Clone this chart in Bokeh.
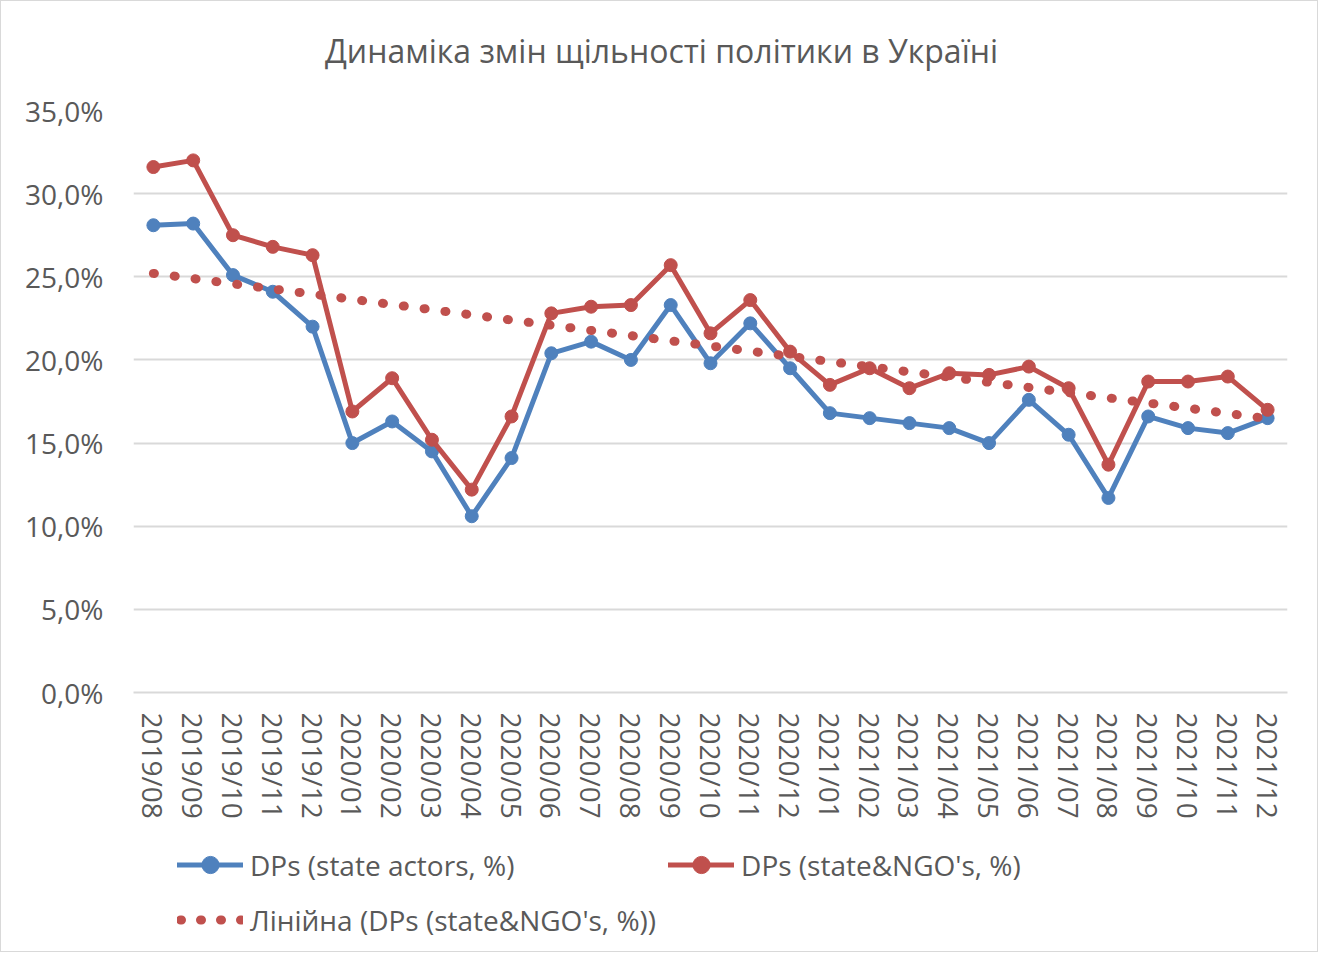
import numpy as np
from bokeh.plotting import figure
from bokeh.layouts import column
from bokeh.models import FactorRange, Range1d, FixedTicker, Legend, LegendItem, Label
from bokeh.embed import file_html
from bokeh.resources import INLINE

months = ["2019/08", "2019/09", "2019/10", "2019/11", "2019/12",
          "2020/01", "2020/02", "2020/03", "2020/04", "2020/05", "2020/06",
          "2020/07", "2020/08", "2020/09", "2020/10", "2020/11", "2020/12",
          "2021/01", "2021/02", "2021/03", "2021/04", "2021/05", "2021/06",
          "2021/07", "2021/08", "2021/09", "2021/10", "2021/11", "2021/12"]

state_actors = [28.1, 28.2, 25.1, 24.1, 22.0,
                15.0, 16.3, 14.5, 10.6, 14.1, 20.4,
                21.1, 20.0, 23.3, 19.8, 22.2, 19.5,
                16.8, 16.5, 16.2, 15.9, 15.0, 17.6,
                15.5, 11.7, 16.6, 15.9, 15.6, 16.5]

state_ngo = [31.6, 32.0, 27.5, 26.8, 26.3,
             16.9, 18.9, 15.2, 12.2, 16.6, 22.8,
             23.2, 23.3, 25.7, 21.6, 23.6, 20.5,
             18.5, 19.5, 18.3, 19.2, 19.1, 19.6,
             18.3, 13.7, 18.7, 18.7, 19.0, 17.0]

y_ticks = [0, 5, 10, 15, 20, 25, 30, 35]
y_tick_labels = ["0,0%", "5,0%", "10,0%", "15,0%", "20,0%", "25,0%", "30,0%", "35,0%"]

title_text = "Динаміка змін щільності політики в Україні"
label_blue = "DPs (state actors, %)"
label_red = "DPs (state&NGO's, %)"
label_trend = "Лінійна (DPs (state&NGO's, %))"

# Excel-style linear trendline of the red series
idx = np.arange(len(months))
coef = np.polyfit(idx, state_ngo, 1)
trend = list(np.polyval(coef, idx))

BLUE = "#4F81BD"
RED = "#C0504D"
TXT = "#595959"
GRID = "#D9D9D9"
FONT = "Open Sans"

# ---- title strip ----
tf = figure(width=1316, height=80, x_range=Range1d(0, 1), y_range=Range1d(0, 1),
            output_backend="svg", toolbar_location=None,
            x_axis_location=None, y_axis_location=None,
            min_border_left=0, min_border_right=0, min_border_top=0, min_border_bottom=0)
tf.outline_line_color = None
tf.grid.visible = False
tf.add_layout(Label(x=0.5, y=0.5, text=title_text, text_align="center",
                    text_baseline="middle", x_offset=-49, y_offset=-9,
                    text_font=FONT, text_font_size="32px", text_color=TXT))

# ---- main chart ----
p = figure(width=1316, height=755,
           x_range=FactorRange(*months), y_range=Range1d(0, 35),
           output_backend="svg", toolbar_location=None,
           min_border_left=132, min_border_right=30,
           min_border_top=29, min_border_bottom=144)
p.outline_line_color = None

p.xgrid.grid_line_color = None
p.ygrid.grid_line_color = GRID
p.ygrid.grid_line_width = 2
p.yaxis.ticker = FixedTicker(ticks=y_ticks)
p.yaxis.major_label_overrides = {t: l for t, l in zip(y_ticks, y_tick_labels)}
p.yaxis.axis_line_color = None
p.yaxis.major_tick_line_color = None
p.yaxis.minor_tick_line_color = None
p.yaxis.major_label_standoff = 24
p.yaxis.major_label_text_font = FONT
p.yaxis.major_label_text_font_size = "28px"
p.yaxis.major_label_text_color = TXT

p.xaxis.axis_line_color = GRID
p.xaxis.axis_line_width = 2
p.xaxis.major_tick_line_color = None
p.xaxis.minor_tick_line_color = None
p.xaxis.major_label_orientation = "vertical"
p.xaxis.major_label_standoff = 14
p.xaxis.major_label_text_font = FONT
p.xaxis.major_label_text_font_size = "28px"
p.xaxis.major_label_text_color = TXT

p.line(months, state_actors, line_color=BLUE, line_width=5, line_join="round")
p.scatter(months, state_actors, size=13, fill_color=BLUE, line_color=BLUE)
p.line(months, state_ngo, line_color=RED, line_width=5, line_join="round")
p.scatter(months, state_ngo, size=13, fill_color=RED, line_color=RED)
p.line(months, trend, line_color=RED, line_width=9, line_dash="1 20", line_cap="round")

# ---- legend strip: same series drawn out of view so the legend has glyphs ----
pl = figure(width=1316, height=115, x_range=Range1d(0, 1), y_range=Range1d(0, 1),
            output_backend="svg", toolbar_location=None,
            x_axis_location=None, y_axis_location=None,
            min_border_left=0, min_border_right=0, min_border_top=0, min_border_bottom=0)
pl.outline_line_color = None
pl.grid.visible = False
lb1 = pl.line(idx, state_actors, line_color=BLUE, line_width=5, line_cap="round")
lb2 = pl.scatter(idx, state_actors, size=13, fill_color=BLUE, line_color=BLUE)
lr1 = pl.line(idx, state_ngo, line_color=RED, line_width=5, line_cap="round")
lr2 = pl.scatter(idx, state_ngo, size=13, fill_color=RED, line_color=RED)
lt = pl.line(idx, trend, line_color=RED, line_width=9, line_dash="1 19",
             line_dash_offset=17, line_cap="round")

legend = Legend(items=[LegendItem(label=label_blue, renderers=[lb1, lb2]),
                       LegendItem(label=label_trend, renderers=[lt]),
                       LegendItem(label=label_red, renderers=[lr1, lr2])],
                ncols=2, location=(44, 10))
legend.glyph_width = 66
legend.glyph_height = 43
legend.label_standoff = 7
legend.label_width = 400
legend.label_text_font = FONT
legend.label_text_font_size = "28px"
legend.label_text_color = TXT
legend.spacing = 12
legend.padding = 0
legend.margin = 0
legend.border_line_color = None
legend.background_fill_alpha = 0
pl.add_layout(legend, "center")

layout = column(tf, p, pl, spacing=0)
layout.styles = {"border": "1px solid #D9D9D9"}

open("out.html", "w").write(file_html(layout, INLINE))
